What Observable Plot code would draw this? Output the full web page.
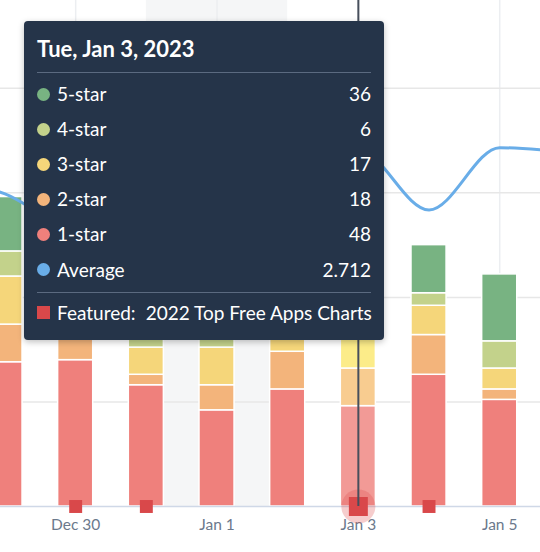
<!DOCTYPE html>
<html><head><meta charset="utf-8">
<script src="https://cdn.jsdelivr.net/npm/d3@7"></script>
<script src="https://cdn.jsdelivr.net/npm/@observablehq/plot@0.6"></script>
<style>
html,body{margin:0;padding:0;background:#fff;overflow:hidden;}
#wrap{position:relative;width:540px;height:552px;overflow:hidden;font-family:Lato,sans-serif;}
#wrap svg{overflow:hidden !important;}
#tip{position:absolute;left:24px;top:21px;width:360px;height:319px;background:#253449;border-radius:4px;box-shadow:0 2px 6px rgba(0,0,0,.25);color:#fff;}
#tip .title{position:absolute;left:13px;top:12.5px;line-height:30px;font-size:22px;font-weight:bold;}
#tip .row{position:absolute;left:13px;right:13px;height:35px;line-height:35px;font-size:19px;white-space:pre;}
#tip .dot{position:absolute;left:0;top:11.5px;width:13px;height:13px;border-radius:50%;}
#tip .sq{position:absolute;left:0;top:11.5px;width:13px;height:13px;}
#tip .lab{position:absolute;left:20px;}
#tip .val{position:absolute;right:0;}
#tip .hr{position:absolute;left:13px;right:13px;height:1px;background:#5b6a80;}
</style></head>
<body>
<div id="wrap"><div id="chart"></div><div id="tip"></div></div>
<script>
// ---- data ----
const dates = ["2022-12-28","2022-12-29","2022-12-30","2022-12-31","2023-01-01","2023-01-02","2023-01-03","2023-01-04","2023-01-05","2023-01-06"];
const star1 = [60, 69, 70, 58, 46, 56, 48, 63, 51, 49];
const star2 = [15, 18, 18,  5, 12, 18, 18, 19,  5,  8];
const star3 = [20, 23, 14, 13, 18, 14, 17, 14, 10, 12];
const star4 = [12, 12,  6,  8, 10,  8,  6,  6, 13, 12];
const star5 = [30, 26, 20, 20, 25, 28, 36, 23, 32, 30];
const avgRating = [2.540, 2.378, 2.125, 2.298, 2.604, 2.468, 2.712, 2.256, 2.730, 2.694];
const seriesNames = ["1-star","2-star","3-star","4-star","5-star"];
const seriesColors = ["#ef807c","#f3b47b","#f5d67a","#c3d28b","#78b382"];
const seriesColorsHover = ["#f29a96","#f8cc90","#fcec89","#d6e2a2","#92c598"];
const avgColor = "#69ade8";
const featuredDates = ["2022-12-30","2022-12-31","2023-01-03","2023-01-04"];
const featuredName = "2022 Top Free Apps Charts";
const hoverDate = "2023-01-03";
const weekendSpans = [["2022-12-31","2023-01-02"]];
const tickDates = ["2022-12-30","2023-01-01","2023-01-03","2023-01-05"];
const tickLabels = ["Dec 30","Jan 1","Jan 3","Jan 5"];
const gridCounts = [50, 100, 150, 200];
const countMax = 242;   // count axis top
const avgMax = 3.85;    // average axis top (secondary axis)

// ---- tables ----
const parse = d3.utcParse("%Y-%m-%d");
const stars = [star1, star2, star3, star4, star5];
const barTable = [];
dates.forEach((ds, i) => {
  let acc = 0;
  stars.forEach((arr, j) => {
    barTable.push({date: parse(ds), series: seriesNames[j], j, y1: acc, y2: acc + arr[i], hovered: ds === hoverDate});
    acc += arr[i];
  });
});
const avgTable = dates.map((ds, i) => ({date: parse(ds), avg: avgRating[i]}));
const featTable = featuredDates.map(ds => ({date: parse(ds), hovered: ds === hoverDate}));
const labelMap = new Map(tickDates.map((d, i) => [+parse(d), tickLabels[i]]));
const k = countMax / avgMax;
const halfDay = (d, s) => d3.utcHour.offset(d.date, s * 12);

const chart = Plot.plot({
  width: 540, height: 552,
  marginLeft: 0, marginRight: 0, marginTop: 0, marginBottom: 46,
  style: {fontFamily: "Lato, sans-serif", fontSize: "15.5px", color: "#6b798c", background: "transparent"},
  x: {type: "utc", domain: [parse("2022-12-29"), parse("2023-01-05")], range: [4.5, 499.2],
      ticks: tickDates.map(parse), tickFormat: d => labelMap.get(+d) || "", tickSize: 0, tickPadding: 12, label: null},
  y: {domain: [0, countMax], axis: null},
  color: {type: "identity"},
  marks: [
    Plot.rect(weekendSpans, {x1: d => parse(d[0]), x2: d => parse(d[1]), fill: "#f5f6f7"}),
    Plot.ruleX(tickDates, {x: d => parse(d), stroke: "#eceef1", strokeWidth: 1.5}),
    Plot.ruleY(gridCounts, {stroke: "#e7e7e7", strokeWidth: 1.5}),
    Plot.rect(barTable, {
      x1: d => halfDay(d, -1), x2: d => halfDay(d, 1), y1: "y1", y2: "y2",
      fill: d => (d.hovered ? seriesColorsHover : seriesColors)[d.j],
      stroke: "white", strokeWidth: 1.5, insetLeft: 17.8, insetRight: 17.8
    }),
    Plot.ruleY([0], {stroke: "#cfd8e7", strokeWidth: 1.5}),
    Plot.line(avgTable, {x: "date", y: d => d.avg * k, stroke: avgColor, strokeWidth: 3, curve: "monotone-x"}),
    Plot.dot(featTable.filter(d => d.hovered), {x: "date", y: 0, r: 17, fill: "#e04a4a", fillOpacity: 0.28}),
    Plot.dot(featTable.filter(d => !d.hovered), {x: "date", y: 0, symbol: "square", r: 7.3, fill: "#d9484a"}),
    Plot.dot(featTable.filter(d => d.hovered), {x: "date", y: 0, symbol: "square", r: 10.7, fill: "#d9484a"}),
    Plot.ruleX([hoverDate], {x: d => parse(d), stroke: "#474f5c", strokeWidth: 2})
  ]
});
document.getElementById("chart").appendChild(chart);

// ---- tooltip ----
const hi = dates.indexOf(hoverDate);
const tip = document.getElementById("tip");
let html = `<div class="title">${d3.utcFormat("%a, %b %-d, %Y")(parse(hoverDate))}</div><div class="hr" style="top:51px"></div>`;
const rows = [];
for (let j = 4; j >= 0; j--) rows.push({name: seriesNames[j], color: seriesColors[j], value: String(stars[j][hi])});
rows.push({name: "Average", color: avgColor, value: d3.format(".3f")(avgRating[hi])});
rows.forEach((r, i) => {
  const top = 55 + i * 35.1;
  html += `<div class="row" style="top:${top}px"><span class="dot" style="background:${r.color}"></span><span class="lab">${r.name}</span><span class="val">${r.value}</span></div>`;
});
html += `<div class="hr" style="top:271px"></div>`;
html += `<div class="row" style="top:273.5px"><span class="sq" style="background:#d9484a"></span><span class="lab">Featured:<span style="margin-left:10px">${featuredName}</span></span></div>`;
tip.innerHTML = html;
</script>
</body></html>
